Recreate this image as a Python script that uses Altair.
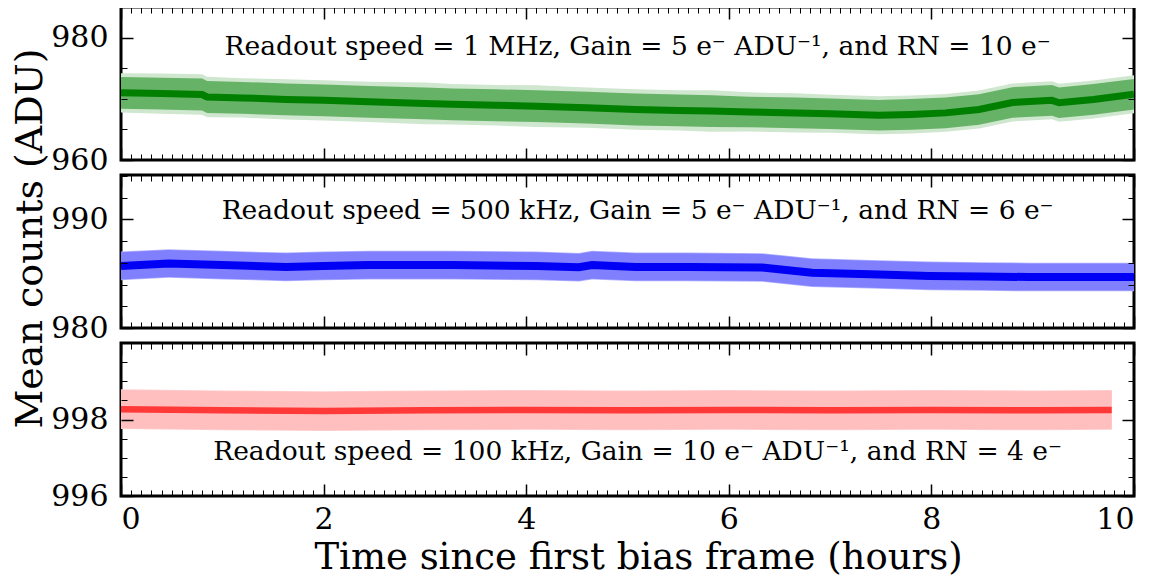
import altair as alt
import pandas as pd

# ---------------- data ----------------
# Panel 1: 1 MHz (green)
hours_g = [0.0, 0.4, 0.8, 0.85, 1.2, 1.63, 2.0, 2.45, 3.0, 3.27, 3.7, 4.1, 4.6, 5.08,
           5.5, 5.83, 6.2, 6.66, 7.0, 7.48, 7.8, 8.14, 8.47, 8.8, 9.19, 9.26, 9.6, 10.0]
mean_g = [970.98, 970.85, 970.7, 970.3, 970.15, 969.9, 969.75, 969.5, 969.25, 969.1,
          968.95, 968.8, 968.55, 968.25, 968.1, 968.0, 967.85, 967.7, 967.55, 967.3,
          967.45, 967.7, 968.25, 969.4, 969.75, 969.35, 969.9, 970.75]
std_g = [2.6, 2.6, 2.6, 2.6, 2.6, 2.6, 2.6, 2.6, 2.6, 2.6, 2.6, 2.6, 2.6, 2.6,
         2.6, 2.6, 2.5, 2.5, 2.5, 2.5, 2.5, 2.5, 2.5, 2.5, 2.5, 2.5, 2.5, 2.5]
spike_g = [3.2, 3.3, 3.3, 3.3, 3.2, 3.3, 3.3, 3.3, 3.4, 3.3, 3.3, 3.4, 3.3, 3.3,
           3.3, 3.4, 3.2, 3.2, 3.1, 3.1, 3.1, 3.1, 3.1, 3.1, 3.1, 3.1, 3.1, 3.1]

# Panel 2: 500 kHz (blue)
hours_b = [0.0, 0.47, 1.0, 1.63, 2.0, 2.45, 3.27, 4.1, 4.52, 4.65, 5.08, 5.6, 6.33,
           6.82, 7.4, 7.98, 8.5, 8.96, 9.5, 10.0]
mean_b = [985.72, 985.94, 985.8, 985.63, 985.72, 985.8, 985.8, 985.72, 985.6, 985.8,
          985.63, 985.63, 985.58, 985.1, 984.95, 984.8, 984.75, 984.7, 984.7, 984.7]
std_b = [1.25] * 20
spike_b = [1.32] * 20

# Panel 3: 100 kHz (red)
hours_r = [0.0, 1.0, 2.0, 3.0, 4.0, 5.0, 6.0, 7.0, 8.0, 9.0, 9.78]
mean_r = [998.27, 998.24, 998.22, 998.24, 998.25, 998.24, 998.25, 998.24, 998.25,
          998.24, 998.25]
std_r = [0.5] * 11
spike_r = [0.52] * 11

labels = [
    "Readout speed = 1 MHz, Gain = 5 e\u207b ADU\u207b\u00b9, and RN = 10 e\u207b",
    "Readout speed = 500 kHz, Gain = 5 e\u207b ADU\u207b\u00b9, and RN = 6 e\u207b",
    "Readout speed = 100 kHz, Gain = 10 e\u207b ADU\u207b\u00b9, and RN = 4 e\u207b",
]
label_pos_x = [5.1, 5.1, 5.1]
label_pos_y = [978.4, 990.8, 997.15]

y_domains = [[960, 985], [980, 994.1], [996, 1000]]
y_major = [[960, 980], [980, 990], [996, 998]]
y_minor = [[965, 970, 975, 985], [982, 984, 986, 988, 992, 994],
           [996.5, 997, 997.5, 998.5, 999, 999.5, 1000]]
x_major = [0, 2, 4, 6, 8, 10]
x_minor = [i / 10 for i in range(101)]

FONT = "DejaVu Serif"
W, H = 1013, 153


def tick_axis(orient, values, size, width):
    return alt.Axis(orient=orient, values=values, labels=False, ticks=True,
                    domain=False, grid=False, tickColor="black",
                    tickSize=alt.ExprRef(expr=str(-size)), tickWidth=width,
                    title=None, zindex=2)


def panel(i, hours, mean, std, spike, c_spike, c_band, c_line, line_w, line_op,
          bottom=False, ytitle=None):
    df = pd.DataFrame({"t": hours, "m": mean, "s": std, "k": spike})
    df["lo"] = df["m"] - df["s"]
    df["hi"] = df["m"] + df["s"]
    df["klo"] = df["m"] - df["k"]
    df["khi"] = df["m"] + df["k"]
    xs = alt.Scale(domain=[0, 10], nice=False, zero=False)
    ys = alt.Scale(domain=y_domains[i], nice=False, zero=False)

    if bottom:
        x_lab = alt.Axis(orient="bottom", values=x_major, ticks=False, domain=False,
                         grid=False, format="d", labelFont=FONT, labelFontSize=30,
                         labelColor="black", labelPadding=8,
                         title="Time since first bias frame (hours)",
                         titleFont=FONT, titleFontSize=37, titleFontWeight="normal",
                         titleColor="black", titlePadding=5, titleX=517)
    else:
        x_lab = None
    y_lab_kw = dict(orient="left", values=y_major[i], ticks=False, domain=False,
                    grid=False, format="d", labelFont=FONT, labelFontSize=30,
                    labelColor="black", labelPadding=13)
    if ytitle:
        y_lab = alt.Axis(title=ytitle, titleFont=FONT, titleFontSize=38,
                         titleFontWeight="normal", titleColor="black",
                         titlePadding=1, titleY=63, **y_lab_kw)
    else:
        y_lab = alt.Axis(title=None, **y_lab_kw)

    base = alt.Chart(df)
    outer = base.mark_area(color=c_spike, clip=True).encode(
        x=alt.X("t:Q", scale=xs, axis=x_lab),
        y=alt.Y("klo:Q", scale=ys, axis=y_lab),
        y2="khi:Q",
    )
    core = base.mark_area(color=c_band, clip=True).encode(
        x=alt.X("t:Q", scale=xs, axis=tick_axis("bottom", x_major, 12, 1.5)),
        y=alt.Y("lo:Q", scale=ys, axis=tick_axis("left", y_major[i], 12, 1.5)),
        y2="hi:Q",
    )
    line = base.mark_line(color=c_line, strokeWidth=line_w, opacity=line_op,
                          clip=True).encode(
        x=alt.X("t:Q", scale=xs, axis=tick_axis("bottom", x_minor, 6, 1)),
        y=alt.Y("m:Q", scale=ys, axis=tick_axis("left", y_minor[i], 6, 1)),
    )
    tdf = pd.DataFrame({"tx": [label_pos_x[i]], "ty": [label_pos_y[i]],
                        "txt": [labels[i]]})
    text = alt.Chart(tdf).mark_text(font=FONT, fontSize=26.5, color="black",
                                    align="center", baseline="middle").encode(
        x=alt.X("tx:Q", scale=xs, axis=tick_axis("top", x_major, 12, 1.5)),
        y=alt.Y("ty:Q", scale=ys, axis=tick_axis("right", y_major[i], 12, 1.5)),
        text="txt:N",
    )
    ghost = base.mark_line(opacity=0).encode(
        x=alt.X("t:Q", scale=xs, axis=tick_axis("top", x_minor, 6, 1)),
        y=alt.Y("m:Q", scale=ys, axis=tick_axis("right", y_minor[i], 6, 1)),
    )
    return (alt.layer(outer, core, line, text, ghost)
            .resolve_axis(x="independent", y="independent")
            .properties(width=W, height=H))


p1 = panel(0, hours_g, mean_g, std_g, spike_g, "#cfe6cf", "#66b266", "#007f00", 7, 1.0)
p2 = panel(1, hours_b, mean_b, std_b, spike_b, "#b3b3ff", "#8080ff", "#0000f5", 8, 1.0,
           ytitle="Mean counts (ADU)")
p3 = panel(2, hours_r, mean_r, std_r, spike_r, "#ffd0d0", "#ffbfbf", "#ff3838", 6.5, 1.0,
           bottom=True)

chart = (alt.vconcat(p1, p2, p3, spacing=15, bounds="flush")
         .properties(padding={"left": 2, "top": -4, "right": 5, "bottom": 0})
         .configure(background="white")
         .configure_view(stroke="black", strokeWidth=3))

chart.save("out.html", embed_options={"renderer": "svg", "actions": False})
